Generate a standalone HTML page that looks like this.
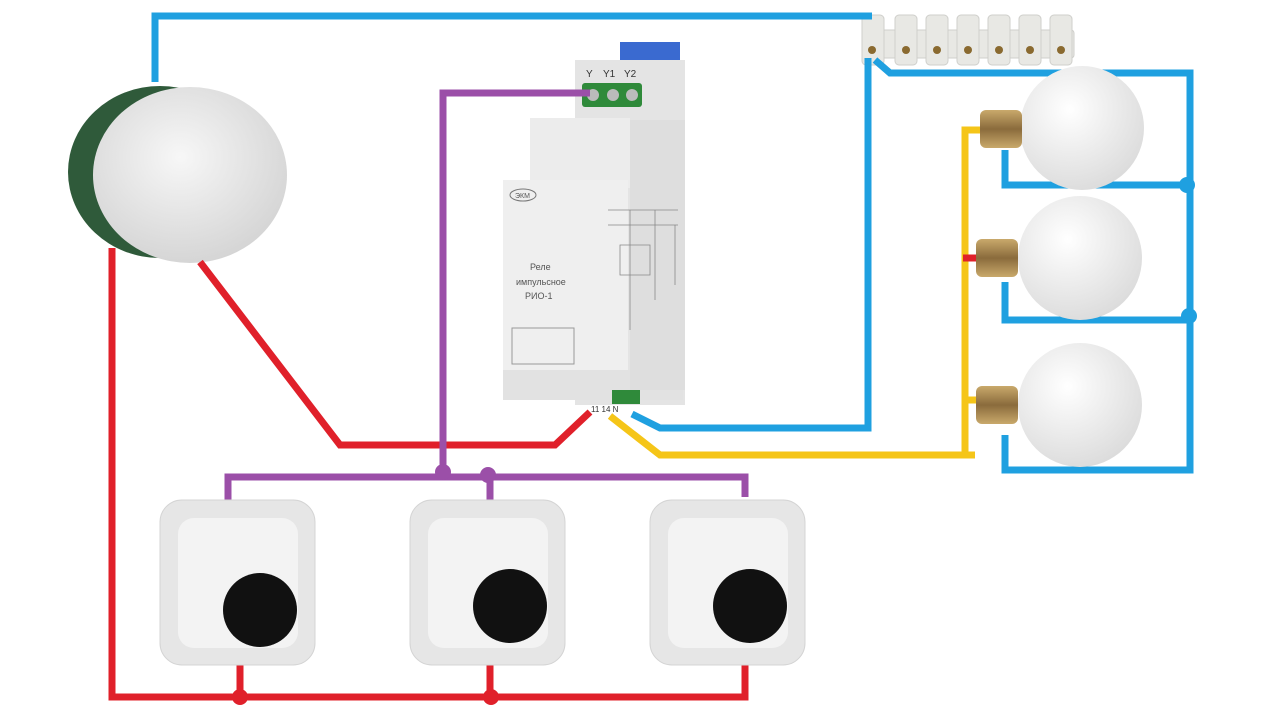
<!DOCTYPE html>
<html><head><meta charset="utf-8"><style>body{margin:0;background:#fff}svg{display:block}</style></head><body>
<svg width="1280" height="720" viewBox="0 0 1280 720" xmlns="http://www.w3.org/2000/svg" font-family="Liberation Sans, sans-serif">
<defs>
<radialGradient id="g1" cx="0.45" cy="0.4" r="0.7"><stop offset="0" stop-color="#f7f7f7"/><stop offset="1" stop-color="#d0d0d0"/></radialGradient>
<radialGradient id="bulb" cx="0.4" cy="0.35" r="0.75"><stop offset="0" stop-color="#ffffff"/><stop offset="1" stop-color="#d8d8d8"/></radialGradient>
<linearGradient id="base" x1="0" y1="0" x2="0" y2="1"><stop offset="0" stop-color="#c9a96b"/><stop offset="0.5" stop-color="#8a6b3c"/><stop offset="1" stop-color="#c9a96b"/></linearGradient>
</defs>
<ellipse cx="160" cy="172" rx="92" ry="86" fill="#2f5a3a"/>
<ellipse cx="190" cy="175" rx="97" ry="88" fill="url(#g1)"/>
<g fill="#e8e8e4" stroke="#cfcfcb">
<rect x="862" y="30" width="212" height="28" rx="3"/>
<rect x="862" y="15" width="22" height="50" rx="4"/><rect x="895" y="15" width="22" height="50" rx="4"/><rect x="926" y="15" width="22" height="50" rx="4"/><rect x="957" y="15" width="22" height="50" rx="4"/><rect x="988" y="15" width="22" height="50" rx="4"/><rect x="1019" y="15" width="22" height="50" rx="4"/><rect x="1050" y="15" width="22" height="50" rx="4"/>
</g>
<g fill="#8a6a30"><circle cx="872" cy="50" r="4"/><circle cx="906" cy="50" r="4"/><circle cx="937" cy="50" r="4"/><circle cx="968" cy="50" r="4"/><circle cx="999" cy="50" r="4"/><circle cx="1030" cy="50" r="4"/><circle cx="1061" cy="50" r="4"/></g>
<rect x="620" y="42" width="60" height="22" fill="#3a6ad0"/>
<rect x="575" y="60" width="110" height="345" fill="#e4e4e4"/>
<rect x="530" y="118" width="100" height="70" fill="#ececec"/>
<rect x="503" y="180" width="125" height="190" fill="#efefef"/>
<rect x="503" y="370" width="180" height="30" fill="#e2e2e2"/>
<rect x="630" y="120" width="55" height="270" fill="#dedede"/>
<rect x="582" y="83" width="60" height="24" rx="3" fill="#2f8a3a"/>
<circle cx="593" cy="95" r="6" fill="#bbb"/><circle cx="613" cy="95" r="6" fill="#bbb"/><circle cx="632" cy="95" r="6" fill="#bbb"/>
<text x="586" y="77" font-size="10" fill="#333">Y</text><text x="603" y="77" font-size="10" fill="#333">Y1</text><text x="624" y="77" font-size="10" fill="#333">Y2</text>
<rect x="512" y="328" width="62" height="36" fill="none" stroke="#999"/>
<ellipse cx="523" cy="195" rx="13" ry="6" fill="none" stroke="#777"/>
<text x="515" y="198" font-size="7" fill="#555">ЭКМ</text>
<text x="530" y="270" font-size="9" fill="#555">Реле</text>
<text x="516" y="285" font-size="9" fill="#555">импульсное</text>
<text x="525" y="299" font-size="9" fill="#555">РИО-1</text>
<g stroke="#888" fill="none" stroke-width="0.8"><path d="M608 210h70M608 225h70M630 210v120M655 210v90M620 245h30v30h-30zM675 225v60"/></g>
<rect x="612" y="390" width="28" height="14" fill="#2f8a3a"/>
<text x="591" y="412" font-size="8" fill="#333">11  14  N</text>
<g fill="none" stroke-width="7" stroke-linejoin="miter">
<path stroke="#1fa0e0" d="M155 82V16H872M868 58V428H660L632 414M875 60L890 73H1190V470H1005V435M1005 150V185H1190M1005 282V320H1190"/>
<path stroke="#f5c518" d="M610 416L660 455H975M965 455V130H985M968 400H985"/>
<path stroke="#e0202a" d="M200 262L340 445H555L590 412M112 248V697H745V660M240 697V660M490 697V660M963 258H982"/>
<path stroke="#9b4fa8" d="M590 93H443V472M228 505V477H745V497M490 477V502"/>
</g>
<g fill="#1fa0e0"><circle cx="1187" cy="185" r="8"/><circle cx="1189" cy="316" r="8"/></g>
<g fill="#e0202a"><circle cx="240" cy="697" r="8"/><circle cx="491" cy="697" r="8"/></g>
<g fill="#9b4fa8"><circle cx="443" cy="472" r="8"/><circle cx="488" cy="475" r="8"/></g>
<g>
<circle cx="1082" cy="128" r="62" fill="url(#bulb)"/><rect x="980" y="110" width="42" height="38" rx="6" fill="url(#base)"/>
<circle cx="1080" cy="258" r="62" fill="url(#bulb)"/><rect x="976" y="239" width="42" height="38" rx="6" fill="url(#base)"/>
<circle cx="1080" cy="405" r="62" fill="url(#bulb)"/><rect x="976" y="386" width="42" height="38" rx="6" fill="url(#base)"/>
</g>
<g>
<rect x="160" y="500" width="155" height="165" rx="22" fill="#e6e6e6" stroke="#d4d4d4"/><rect x="178" y="518" width="120" height="130" rx="16" fill="#f3f3f3"/><circle cx="260" cy="610" r="37" fill="#111"/>
<rect x="410" y="500" width="155" height="165" rx="22" fill="#e6e6e6" stroke="#d4d4d4"/><rect x="428" y="518" width="120" height="130" rx="16" fill="#f3f3f3"/><circle cx="510" cy="606" r="37" fill="#111"/>
<rect x="650" y="500" width="155" height="165" rx="22" fill="#e6e6e6" stroke="#d4d4d4"/><rect x="668" y="518" width="120" height="130" rx="16" fill="#f3f3f3"/><circle cx="750" cy="606" r="37" fill="#111"/>
</g>
</svg>
</body></html>
